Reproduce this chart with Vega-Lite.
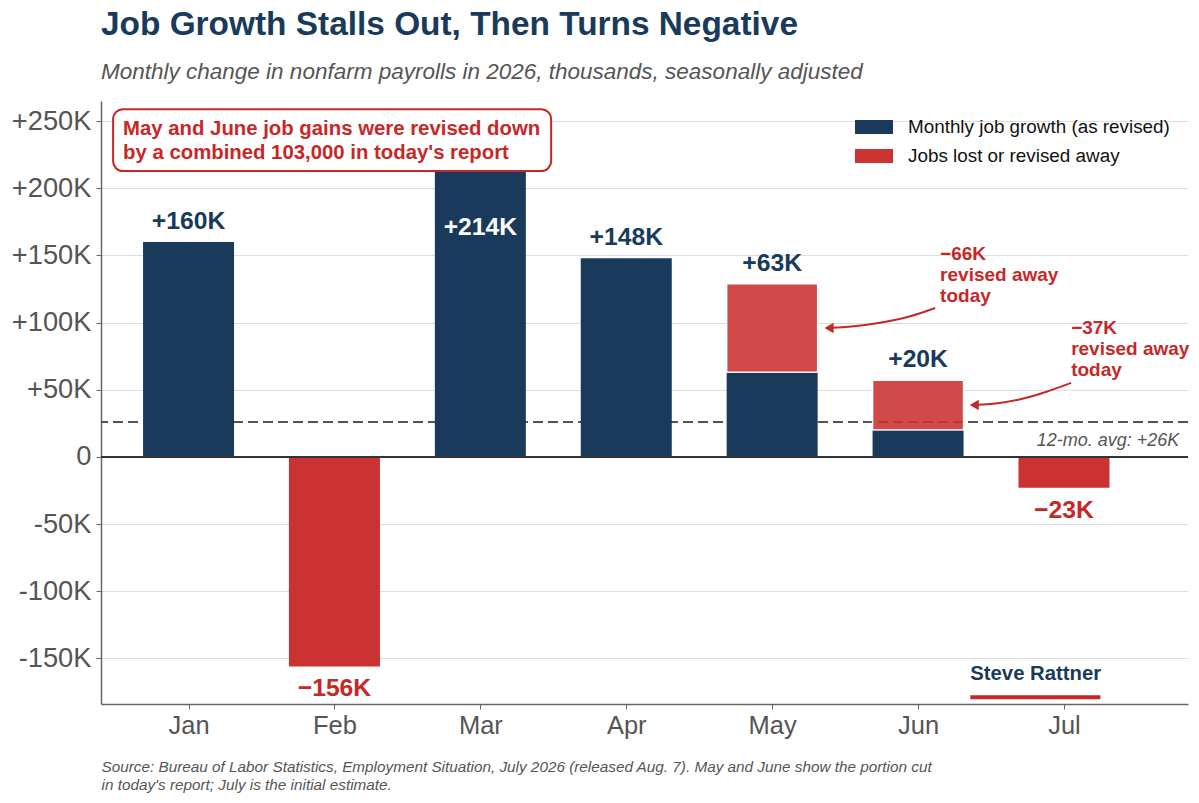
{
"$schema":"https://vega.github.io/schema/vega-lite/v6.json",
"width":1087,"height":603,
"padding":{"left":11,"top":8,"right":5,"bottom":5},
"background":"white",
"config":{"font":"Liberation Sans","view":{"stroke":null}},
"title":{"text":"Job Growth Stalls Out, Then Turns Negative","subtitle":"Monthly change in nonfarm payrolls in 2026, thousands, seasonally adjusted","anchor":"start","frame":"group","font":"Liberation Sans","fontSize":33.4,"fontWeight":"bold","color":"#1a3a5c","subtitleFont":"Liberation Sans","subtitleFontSize":22.5,"subtitleFontStyle":"italic","subtitleColor":"#555555","subtitlePadding":18,"offset":17},
"datasets":{
"bars":[
{"month":"Jan","idx":0,"value":0,"value2":160,"series":"Monthly job growth (as revised)"},
{"month":"Feb","idx":1,"value":-156,"value2":0,"series":"Jobs lost or revised away"},
{"month":"Mar","idx":2,"value":0,"value2":214,"series":"Monthly job growth (as revised)"},
{"month":"Apr","idx":3,"value":0,"value2":148,"series":"Monthly job growth (as revised)"},
{"month":"May","idx":4,"value":0,"value2":63,"series":"Monthly job growth (as revised)"},
{"month":"Jun","idx":5,"value":0,"value2":20,"series":"Monthly job growth (as revised)"},
{"month":"Jul","idx":6,"value":-23,"value2":0,"series":"Jobs lost or revised away"}],
"revised":[
{"month":"May","idx":4,"value":63,"value2":129,"series":"Jobs lost or revised away"},
{"month":"Jun","idx":5,"value":20,"value2":57,"series":"Jobs lost or revised away"}],
"labels":[
{"idx":0,"value":160,"label":"+160K","place":"above"},
{"idx":3,"value":148,"label":"+148K","place":"above"},
{"idx":4,"value":129,"label":"+63K","place":"above"},
{"idx":5,"value":57,"label":"+20K","place":"above"},
{"idx":2,"value":214,"label":"+214K","place":"inside"},
{"idx":1,"value":-156,"label":"−156K","place":"below"},
{"idx":6,"value":-23,"label":"−23K","place":"below"}],
"arrows":[
{"arrow":"May","idx":5.117,"value":110.9},{"arrow":"May","idx":4.945,"value":104.2},{"arrow":"May","idx":4.74,"value":99.7},{"arrow":"May","idx":4.534,"value":96.7},{"arrow":"May","idx":4.39,"value":96},
{"arrow":"Jun","idx":6.049,"value":55.1},{"arrow":"Jun","idx":5.884,"value":48.4},{"arrow":"Jun","idx":5.699,"value":42.4},{"arrow":"Jun","idx":5.528,"value":39.4},{"arrow":"Jun","idx":5.385,"value":38.7}],
"tips":[{"idx":4.39,"value":96},{"idx":5.385,"value":38.7}],
"notes":[
{"idx":5.151,"value":157.5,"label":"−66K\nrevised away\ntoday"},
{"idx":6.049,"value":102.5,"label":"−37K\nrevised away\ntoday"}]
},
"encoding":{
"x":{"field":"idx","type":"quantitative","scale":{"domain":[-0.6,6.85],"nice":false,"zero":false,"padding":0},
"axis":{"values":[0,1,2,3,4,5,6],"labelExpr":"['Jan','Feb','Mar','Apr','May','Jun','Jul'][datum.value]","grid":false,"labelFontSize":25.5,"labelColor":"#555555","labelPadding":4,"tickSize":5,"tickColor":"#666666","domainColor":"#666666","domainWidth":1.5,
"title":["Source: Bureau of Labor Statistics, Employment Situation, July 2026 (released Aug. 7). May and June show the portion cut","in today's report; July is the initial estimate."],"titleFontSize":15.3,"titleFontStyle":"italic","titleFontWeight":"normal","titleColor":"#555555","titleAnchor":"start","titleAlign":"left","titleX":0,"titleY":67,"titleLineHeight":18,"titleBaseline":"alphabetic"}},
"y":{"field":"value","type":"quantitative","scale":{"domain":[-184,265],"nice":false,"zero":false},
"axis":{"values":[-150,-100,-50,0,50,100,150,200,250],"labelExpr":"datum.value>0?'+'+datum.value+'K':datum.value==0?'0':datum.value+'K'","grid":true,"gridColor":"#dddddd","gridWidth":1,"labelFontSize":27.3,"labelColor":"#555555","labelPadding":5,"tickSize":5,"tickColor":"#666666","domainColor":"#666666","domainWidth":1.5,"title":null}}
},
"layer":[
{"data":{"values":[{"avg":26}]},"mark":{"type":"rule","color":"#555555","strokeWidth":2,"strokeDash":[10,5]},"encoding":{"x":null,"y":{"field":"avg","type":"quantitative"}}},
{"data":{"name":"bars"},"mark":{"type":"bar","size":91,"orient":"vertical"},"encoding":{"y2":{"field":"value2"},
"color":{"field":"series","type":"nominal","scale":{"domain":["Monthly job growth (as revised)","Jobs lost or revised away"],"range":["#1a3a5c","#cb3232"]},
"legend":{"title":null,"orient":"none","legendX":754,"legendY":7,"symbolType":"M-1,-0.37H1V0.37H-1Z","symbolSize":1444,"symbolOpacity":1,"symbolStrokeWidth":0,"labelFontSize":18.85,"labelLimit":400,"labelColor":"#111111","labelOffset":15,"rowPadding":-12}}}},
{"data":{"name":"revised"},"mark":{"type":"bar","size":91,"orient":"vertical","opacity":0.88,"stroke":"white","strokeWidth":1.5},"encoding":{"y2":{"field":"value2"},"color":{"field":"series","type":"nominal","legend":null}}},
{"data":{"values":[{"zero":0}]},"mark":{"type":"rule","color":"#333333","strokeWidth":2},"encoding":{"x":null,"y":{"field":"zero","type":"quantitative"}}},
{"data":{"name":"arrows"},"mark":{"type":"line","color":"#c62828","strokeWidth":2,"interpolate":"basis"},"encoding":{"detail":{"field":"arrow"},"order":{"field":"idx"}}},
{"data":{"name":"tips"},"mark":{"type":"point","shape":"triangle-left","filled":true,"color":"#c62828","size":110,"opacity":1}},
{"data":{"values":[{"idx":-0.517,"idx2":2.485,"value":258.9,"value2":212.8}]},"mark":{"type":"rect","fill":"white","stroke":"#c62828","strokeWidth":2,"cornerRadius":10},"encoding":{"x2":{"field":"idx2"},"y2":{"field":"value2"}}},
{"data":{"values":[{"idx":-0.449,"value":244,"label":"May and June job gains were revised down\nby a combined 103,000 in today's report"}]},"mark":{"type":"text","align":"left","baseline":"middle","lineBreak":"\n","lineHeight":24,"fontSize":20.35,"fontWeight":"bold","color":"#c62828"},"encoding":{"text":{"field":"label"}}},
{"data":{"name":"labels"},"transform":[{"filter":"datum.place=='above'"}],"mark":{"type":"text","baseline":"bottom","dy":-8,"fontSize":24.7,"fontWeight":"bold","color":"#1a3a5c"},"encoding":{"text":{"field":"label"}}},
{"data":{"name":"labels"},"transform":[{"filter":"datum.place=='inside'"}],"mark":{"type":"text","baseline":"top","dy":46,"fontSize":24.7,"fontWeight":"bold","color":"white"},"encoding":{"text":{"field":"label"}}},
{"data":{"name":"labels"},"transform":[{"filter":"datum.place=='below'"}],"mark":{"type":"text","baseline":"top","dy":10,"fontSize":24.7,"fontWeight":"bold","color":"#c62828"},"encoding":{"text":{"field":"label"}}},
{"data":{"name":"notes"},"mark":{"type":"text","align":"left","baseline":"top","lineBreak":"\n","lineHeight":20.7,"fontSize":19,"fontWeight":"bold","color":"#c62828"},"encoding":{"text":{"field":"label"}}},
{"data":{"values":[{"idx":6.79,"value":11.9,"label":"12-mo. avg: +26K"}]},"mark":{"type":"text","align":"right","baseline":"middle","fontSize":18,"fontStyle":"italic","color":"#555555"},"encoding":{"text":{"field":"label"}}},
{"data":{"values":[{"idx":5.358,"value":-161.5,"label":"Steve Rattner"}]},"mark":{"type":"text","align":"left","baseline":"middle","fontSize":20.3,"fontWeight":"bold","color":"#1a3a5c"},"encoding":{"text":{"field":"label"}}},
{"data":{"values":[{"idx":5.358,"idx2":6.25,"value":-179}]},"mark":{"type":"rule","color":"#c62828","strokeWidth":4},"encoding":{"x2":{"field":"idx2"}}}
]
}
